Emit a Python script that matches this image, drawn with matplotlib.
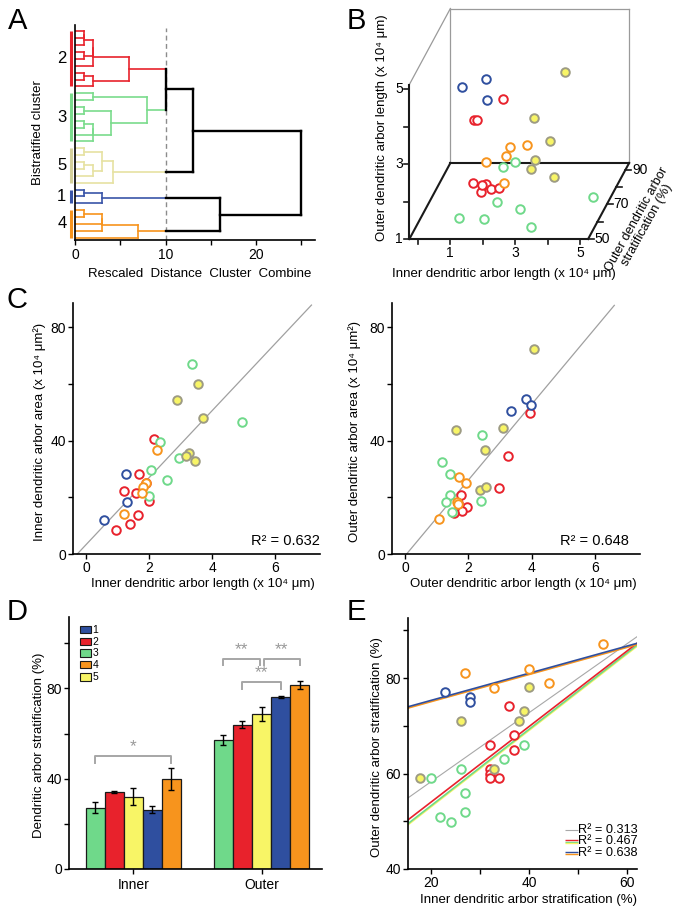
import numpy as np
import matplotlib
matplotlib.use('Agg')
import matplotlib.pyplot as plt
import matplotlib.transforms as mtransforms
from matplotlib.patches import Rectangle

plt.rcParams['font.family'] = ['Liberation Sans', 'DejaVu Sans']
plt.rcParams['mathtext.fontset'] = 'custom'
plt.rcParams['mathtext.rm'] = 'Liberation Sans'
plt.rcParams['axes.linewidth'] = 1.2

# ---------------- data ----------------
cluster_ids = [1, 2, 3, 4, 5]
cluster_colors = ['#2f4f9f', '#e8222c', '#6fd98a', '#f7941d', '#f8f566']
dendro_colors = ['#3a55a8', '#e8222c', '#7adc8c', '#f7941d', '#e6e2a2']
bar_mark_colors = ['#3a55a8', '#e8222c', '#7adc8c', '#f7941d', '#d4d09a']
yellow_edge = '#9d9b83'

# A: dendrogram
leaf_cluster = [2]*9 + [3]*8 + [5]*6 + [1]*3 + [4]*5
merge_left = [0, 31, 3, 32, 34, 6, 36, 35, 9, 11, 13, 41, 42, 40, 39, 17, 19, 47, 46, 49,
              23, 51, 26, 53, 54, 55, 38, 57, 52, 58]
merge_right = [1, 2, 4, 33, 5, 7, 8, 37, 10, 12, 14, 15, 16, 43, 44, 18, 20, 21, 48, 22,
               24, 25, 27, 28, 29, 30, 45, 50, 56, 59]
merge_height = [1, 1, 1, 2, 2, 1, 2, 6, 2, 1, 1, 2, 2, 4, 8, 1, 1, 2, 3, 4.2,
                1, 3, 1, 3, 3, 7, 10, 13, 16, 25]
cut_height = 10
a_label_order = [2, 3, 5, 1, 4]

# B: 3D scatter (inner length, outer length, outer stratification)
b_grp = [1]*3 + [2]*9 + [4]*5 + [3]*8 + [5]*6
b_inner = [0.63, 1.35, 1.38, 2.24, 1.35, 1.42, 1.32, 1.58, 1.55, 1.71, 1.85, 2.12,
           1.96, 2.47, 1.83, 1.22, 2.06, 2.44, 2.80, 2.24, 2.95, 1.09, 1.85, 3.28, 4.93,
           3.99, 3.05, 3.53, 3.07, 2.94, 3.66]
b_outer = [3.85, 4.06, 3.51, 4.08, 3.53, 3.53, 1.86, 1.79, 1.62, 1.82, 1.68, 1.71,
           2.02, 2.08, 1.79, 1.63, 1.52, 2.61, 2.74, 1.67, 1.47, 1.25, 1.22, 1.01, 1.38,
           4.57, 3.34, 2.75, 2.23, 1.98, 1.77]
b_strat = [76, 76, 76] + [64]*9 + [81, 81, 81, 81, 71] + [57]*7 + [66] + [69]*6

# C left: inner length vs inner area
cL_grp = [3]*7 + [5]*6 + [2]*9 + [4]*5 + [1]*3
cL_x = [3.37, 2.36, 4.94, 2.95, 2.05, 2.58, 1.99, 3.55, 2.88, 3.70, 3.26, 3.18, 3.45,
        2.15, 1.67, 1.20, 1.60, 1.99, 1.64, 1.39, 0.96, 1.89, 2.26, 1.90, 1.81, 1.76, 1.19,
        1.27, 1.29, 0.57]
cL_y = [66.9, 39.5, 46.5, 33.9, 29.6, 26.1, 20.5, 59.9, 54.4, 47.9, 35.5, 34.7, 32.7,
        40.6, 28.1, 22.2, 21.5, 18.6, 13.6, 10.6, 8.5, 24.9, 36.6, 25.2, 23.8, 21.4, 14.1,
        28.4, 18.2, 12.1]
cL_fit = (11.85, 3.26)
cL_fit_x = (-0.275, 7.14)
cL_r2 = 'R² = 0.632'

# C right: outer length vs outer area
cR_grp = [5]*6 + [1]*3 + [2]*8 + [3]*7 + [4]*5
cR_x = [4.08, 1.60, 3.08, 2.51, 2.35, 2.56, 3.82, 3.96, 3.35, 3.94, 3.26, 2.97, 1.75,
        1.95, 1.79, 1.55, 1.68, 1.16, 1.42, 2.44, 1.41, 1.29, 2.40, 1.48, 1.71, 1.92, 1.63,
        1.68, 1.08]
cR_y = [72.2, 43.8, 44.5, 36.6, 22.7, 23.6, 54.6, 52.5, 50.6, 49.6, 34.5, 23.4, 20.9,
        16.5, 15.3, 14.6, 17.9, 32.4, 28.1, 41.9, 20.7, 18.5, 18.8, 14.8, 27.1, 24.9, 18.2,
        17.6, 12.5]
cR_fit = (13.4, -0.67)
cR_fit_x = (0.05, 6.6)
cR_r2 = 'R² = 0.648'

# D: bars
d_groups = ['Inner', 'Outer']
d_bar_clusters = [3, 2, 5, 1, 4]
d_inner_mean = [27.2, 34.0, 32.1, 26.2, 39.8]
d_inner_err = [2.4, 0.5, 3.6, 1.6, 5.0]
d_outer_mean = [57.1, 63.9, 68.8, 76.1, 81.4]
d_outer_err = [2.3, 1.6, 3.1, 0.4, 1.8]
d_sig_group = [0, 1, 1, 1]
d_sig_from = [0, 0, 2, 1]
d_sig_to = [4, 2, 4, 3]
d_sig_y = [50.1, 93.2, 93.2, 82.9]
d_sig_text = ['*', '**', '**', '**']

# E: stratification scatter
e_grp = [4]*5 + [1]*3 + [5]*6 + [2]*8 + [3]*8
e_x = [55.1, 27.0, 40.0, 44.0, 33.0, 23.0, 28.1, 28.1, 40.0, 39.0, 38.0, 26.1, 33.0, 17.9,
       36.0, 36.9, 36.9, 32.0, 32.0, 32.0, 32.0, 34.0, 39.0, 34.9, 26.1, 20.0, 27.0, 27.0,
       22.0, 24.1]
e_y = [87.1, 81.1, 82.0, 79.0, 78.0, 77.1, 76.1, 75.1, 78.1, 73.1, 71.0, 71.0, 61.0, 59.0,
       74.1, 68.0, 65.0, 66.0, 61.0, 60.0, 59.0, 59.0, 66.0, 63.0, 61.0, 59.0, 55.9, 52.0,
       50.9, 49.9]
e_fit_color = ['#a8a8a8', '#f8f566', '#6fd98a', '#e8222c', '#f7941d', '#2f4f9f']
e_fit_slope = [0.725, 0.8026, 0.8026, 0.794, 0.2854, 0.2854]
e_fit_icpt = [43.73, 36.90, 37.14, 38.07, 69.33, 69.60]
e_legend_text = ['R² = 0.313', 'R² = 0.467', 'R² = 0.638']
e_legend_colors = [['#a8a8a8'], ['#e8222c', '#6fd98a', '#f8f566'], ['#2f4f9f', '#f7941d']]

# ---------------- figure ----------------
W, H = 684, 914
fig = plt.figure(figsize=(W / 100, H / 100), dpi=100)
ccol = dict(zip(cluster_ids, cluster_colors))
dcol = dict(zip(cluster_ids, dendro_colors))
bcol = dict(zip(cluster_ids, bar_mark_colors))


def add_ax(l, t, r, b):
    ax = fig.add_axes([l / W, 1 - b / H, (r - l) / W, (b - t) / H])
    ax.patch.set_alpha(0)
    for s in ['top', 'right']:
        ax.spines[s].set_visible(False)
    ax.tick_params(direction='out', length=3.4, width=1, pad=1.5, labelsize=10)
    return ax


def ftext(px, py, s, **kw):
    fig.text(px / W, 1 - py / H, s, **kw)


def rings(ax, xs, ys, grp, order, s=38, lw=1.4):
    xs, ys, grp = np.asarray(xs), np.asarray(ys), np.asarray(grp)
    for cl in order:
        m = grp == cl
        if cl == 5:
            ax.scatter(xs[m], ys[m], s=s, facecolor=ccol[5], edgecolor=yellow_edge,
                       linewidth=lw, zorder=3, clip_on=False)
        else:
            ax.scatter(xs[m], ys[m], s=s, facecolor='white', edgecolor=ccol[cl],
                       linewidth=lw, zorder=3, clip_on=False)


# ---- Panel A ----
axA = add_ax(75, 25, 315, 240)
n_leaf = len(leaf_cluster)
axA.set_xlim(0, 26.5)
axA.set_ylim(30.35, -0.946)
ypos = {i: float(i) for i in range(n_leaf)}
hgt = {i: 0.0 for i in range(n_leaf)}
ncl = {i: leaf_cluster[i] for i in range(n_leaf)}
for k, (a, b, h) in enumerate(zip(merge_left, merge_right, merge_height)):
    node = n_leaf + k
    ypos[node] = (ypos[a] + ypos[b]) / 2
    hgt[node] = h
    ncl[node] = ncl[a] if ncl[a] == ncl[b] else None
    inside = ncl[node] is not None
    pc = dcol[ncl[node]] if inside else 'black'
    plw = 1.2 if inside else 1.7
    axA.plot([h, h], [ypos[a], ypos[b]], color=pc, lw=plw, solid_capstyle='projecting',
             zorder=2 if inside else 3)
    for c in (a, b):
        if not inside and ncl[c] is not None:
            axA.plot([hgt[c], cut_height], [ypos[c]] * 2, color=dcol[ncl[c]], lw=1.2, zorder=2)
            if h > cut_height:
                axA.plot([cut_height, h], [ypos[c]] * 2, color='black', lw=1.7, zorder=3)
        else:
            axA.plot([hgt[c], h], [ypos[c]] * 2, color=pc, lw=plw, zorder=2 if inside else 3)
axA.axvline(cut_height, ymin=0, ymax=0.986, color='#8c8c8c', lw=1, ls=(0, (3.5, 2.5)), zorder=1)
for cl in a_label_order:
    idx = [i for i, c in enumerate(leaf_cluster) if c == cl]
    axA.plot([-0.47, -0.47], [min(idx), max(idx)], color=bcol[cl], lw=2.2,
             solid_capstyle='butt', clip_on=False)
    axA.text(-1.45, (min(idx) + max(idx)) / 2, str(cl), ha='center', va='center',
             fontsize=12)
axA.set_yticks([])
axA.set_xticks([0, 5, 10, 15, 20, 25])
axA.set_xticklabels(['0', '', '10', '', '20', ''])
axA.tick_params(axis='x', pad=2.5)
ftext(200, 274, 'Rescaled  Distance  Cluster  Combine', ha='center', va='center', fontsize=9.5)
ftext(38, 133, 'Bistratified cluster', ha='center', va='center', rotation=90, fontsize=9.5)

# ---- Panel C left ----
axC1 = add_ax(73, 303, 320, 554)
axC1.set_xlim(-0.41, 7.41)
axC1.set_ylim(0, 88.6)
xx = np.array(cL_fit_x)
axC1.plot(xx, cL_fit[0] * xx + cL_fit[1], color='#a0a0a0', lw=0.9, zorder=1, clip_on=False)
rings(axC1, cL_x, cL_y, cL_grp, [2, 3, 1, 5, 4])
axC1.set_xticks([0, 2, 4, 6])
axC1.set_yticks([0, 20, 40, 60, 80])
axC1.set_yticklabels(['0', '', '40', '', '80'])
axC1.text(7.4, 3.3, cL_r2, ha='right', va='baseline', fontsize=10.5,
          transform=axC1.transData)
ftext(203, 584, 'Inner dendritic arbor length (x 10⁴ μm)', ha='center', va='center', fontsize=9.5)
ftext(40, 432, 'Inner dendritic arbor area (x 10⁴ μm²)', ha='center', va='center',
      rotation=90, fontsize=9.5)

# ---- Panel C right ----
axC2 = add_ax(392, 303, 640, 554)
axC2.set_xlim(-0.41, 7.41)
axC2.set_ylim(0, 88.6)
xx = np.array(cR_fit_x)
axC2.plot(xx, cR_fit[0] * xx + cR_fit[1], color='#a0a0a0', lw=0.9, zorder=1, clip_on=False)
rings(axC2, cR_x, cR_y, cR_grp, [2, 3, 1, 5, 4])
axC2.set_xticks([0, 2, 4, 6])
axC2.set_yticks([0, 20, 40, 60, 80])
axC2.set_yticklabels(['0', '', '40', '', '80'])
axC2.text(7.05, 3.3, cR_r2, ha='right', va='baseline', fontsize=10.5)
ftext(523, 584, 'Outer dendritic arbor length (x 10⁴ μm)', ha='center', va='center', fontsize=9.5)
ftext(355, 432, 'Outer dendritic arbor area (x 10⁴ μm²)', ha='center', va='center',
      rotation=90, fontsize=9.5)

# ---- Panel D ----
axD = add_ax(69, 617, 322, 869)
axD.set_xlim(-0.502, 1.472)
axD.set_ylim(0, 111.6)
bw = 19 / 128
for g, (means, errs) in enumerate([(d_inner_mean, d_inner_err), (d_outer_mean, d_outer_err)]):
    xs = [g + (i - 2) * bw for i in range(len(d_bar_clusters))]
    axD.bar(xs, means, width=bw, color=[ccol[c] for c in d_bar_clusters],
            edgecolor='#1a1a1a', linewidth=0.9, zorder=2)
    axD.errorbar(xs, means, yerr=errs, fmt='none', ecolor='black', elinewidth=1,
                 capsize=2.5, capthick=1, zorder=3)
for g, i0, i1, y, t in zip(d_sig_group, d_sig_from, d_sig_to, d_sig_y, d_sig_text):
    x0 = g + (i0 - 2) * bw
    x1 = g + (i1 - 2) * bw
    if g == 1 and i1 == 2:
        x1 -= 0.012
    if g == 1 and i0 == 2:
        x0 += 0.02
    axD.plot([x0, x0, x1, x1], [y - 3.0, y, y, y - 3.0], color='#a6a6a6', lw=1.4, zorder=1)
    axD.text((x0 + x1) / 2, y + 0.6, t, ha='center', va='bottom', fontsize=12.5, color='#999999')
axD.set_xticks([0, 1])
axD.set_xticklabels(d_groups)
axD.set_yticks([0, 20, 40, 60, 80, 100])
axD.set_yticklabels(['0', '', '40', '', '80', ''])
axD.tick_params(axis='x', pad=3)
ftext(39, 745, 'Dendritic arbor stratification (%)', ha='center', va='center',
      rotation=90, fontsize=9.5)

# ---- Panel E ----
axE = add_ax(408, 618, 637, 869)
axE.set_xlim(15.4, 62.0)
axE.set_ylim(40, 92.6)
xx = np.array([15.4, 62.0])
for c, sl, ic in zip(e_fit_color, e_fit_slope, e_fit_icpt):
    lw = 0.8 if c == '#a8a8a8' else 1.2
    axE.plot(xx, sl * xx + ic, color=c, lw=lw, zorder=2)
rings(axE, e_x, e_y, e_grp, [3, 2, 5, 1, 4])
axE.set_xticks([20, 30, 40, 50, 60])
axE.set_xticklabels(['20', '', '40', '', '60'])
axE.set_yticks([40, 50, 60, 70, 80, 90])
axE.set_yticklabels(['40', '', '60', '', '80', ''])
ftext(528, 900, 'Inner dendritic arbor stratification (%)', ha='center', va='center', fontsize=9.5)
ftext(377, 747, 'Outer dendritic arbor stratification (%)', ha='center', va='center',
      rotation=90, fontsize=9.5)

# ---- overlay (panel B, legends, letters) ----
ov = fig.add_axes([0, 0, 1, 1])
ov.set_xlim(0, W)
ov.set_ylim(H, 0)
ov.axis('off')
ov.patch.set_alpha(0)

B_X0, B_SX, B_Y0, B_SY, B_DX, B_DY = 417.5, 32.5, 239.0, 37.5, 41.0, -76.0
bx0, bx1 = -0.25, 5.25
by0, by1 = 1.0, 5.12
bz0, bz1 = 50.0, 94.0


def proj(x, y, z):
    f = (np.asarray(z, float) - bz0) / (bz1 - bz0)
    return (B_X0 + B_SX * np.asarray(x, float) + B_DX * f,
            B_Y0 - B_SY * (np.asarray(y, float) - 1.0) + B_DY * f)


def seg(p, q, color, lw):
    xs, ys = proj([p[0], q[0]], [p[1], q[1]], [p[2], q[2]])
    ov.plot(xs, ys, color=color, lw=lw, solid_capstyle='projecting')


for p, q in [((bx0, by0, bz1), (bx0, by1, bz1)), ((bx0, by1, bz0), (bx0, by1, bz1)),
             ((bx0, by1, bz1), (bx1, by1, bz1)), ((bx1, by0, bz1), (bx1, by1, bz1))]:
    seg(p, q, '#9a9a9a', 0.9)
for p, q in [((bx0, by0, bz0), (bx1, by0, bz0)), ((bx0, by0, bz0), (bx0, by0, bz1)),
             ((bx0, by0, bz1), (bx1, by0, bz1)), ((bx1, by0, bz0), (bx1, by0, bz1)),
             ((bx0, by0, bz0), (bx0, by1, bz0))]:
    seg(p, q, '#1a1a1a', 1.5)
for yv in [1, 2, 3, 4, 5]:
    px, py = proj(bx0, yv, bz0)
    ov.plot([px - 5, px], [py, py], color='#1a1a1a', lw=1.2)
    if yv % 2 == 1:
        ov.text(px - 6.5, py, str(yv), ha='right', va='center', fontsize=10)
for xv in [0, 1, 2, 3, 4, 5]:
    px, py = proj(xv, by0, bz0)
    ov.plot([px, px], [py, py + 5], color='#1a1a1a', lw=1.2)
    if xv % 2 == 1:
        ov.text(px, py + 7, str(xv), ha='center', va='top', fontsize=10)
for zv in [50, 60, 70, 80, 90]:
    px, py = proj(bx1, by0, zv)
    ov.plot([px, px + 6], [py, py], color='#1a1a1a', lw=1.2)
    if zv % 20 == 10:
        ov.text(px + 6.5, py, str(zv), ha='left', va='center', fontsize=10)
bpx, bpy = proj(b_inner, b_outer, b_strat)
order = np.argsort(-np.asarray(b_strat))
rings(ov, bpx[order], bpy[order], np.asarray(b_grp)[order], [1, 2, 3, 4, 5])
ov.text(381.7, 128, 'Outer dendritic arbor length (x 10⁴ μm)', ha='center', va='center',
        rotation=90, fontsize=9.5)
ov.text(504, 274, 'Inner dendritic arbor length (x 10⁴ μm)', ha='center', va='center',
        fontsize=9.5)
ov.text(642, 222, 'Outer dendritic arbor\nstratification (%)', ha='center', va='center',
        rotation=61, rotation_mode='anchor', multialignment='center', fontsize=9.2,
        linespacing=1.0)

# D legend
leg_top = [626, 637.7, 649.3, 661, 673.3]
for cl, t in zip(cluster_ids, leg_top):
    ov.add_patch(Rectangle((80, t), 10.7, 7.3, facecolor=ccol[cl], edgecolor='#1a1a1a', lw=0.8))
    ov.text(92.5, t + 3.9, str(cl), ha='left', va='center', fontsize=7.5)

# E legend
for txt, cols, yc in zip(e_legend_text, e_legend_colors, [830, 841.5, 853]):
    n = len(cols)
    for k, c in enumerate(cols):
        yy = yc - (n - 1) * 0.65 + k * 1.3
        ov.plot([565, 577.5], [yy, yy], color=c, lw=0.8 if n == 1 else 1.0,
                solid_capstyle='butt')
    ov.text(578.5, yc, txt, ha='left', va='center', fontsize=9.2)

# panel letters
for letter, px, py in [('A', 17.5, 21), ('B', 356, 21), ('C', 17.5, 300),
                       ('D', 17, 612), ('E', 356, 612)]:
    ov.text(px, py, letter, ha='center', va='center', fontsize=21)

fig.savefig('out.png', dpi=100)
